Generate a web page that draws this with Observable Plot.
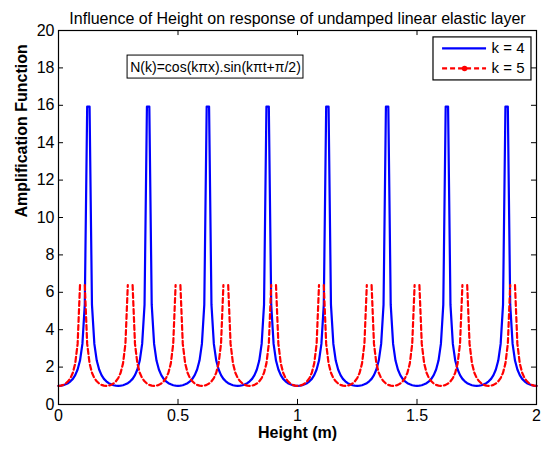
<!DOCTYPE html>
<html>
<head>
<meta charset="utf-8">
<script src="https://cdn.jsdelivr.net/npm/d3@7"></script>
<script src="https://cdn.jsdelivr.net/npm/@observablehq/plot@0.6"></script>
<style>
  html, body { margin: 0; padding: 0; background: #fff; }
</style>
</head>
<body>
<div id="chart"></div>
<script>
// Height (m) sampled every 0.01
const height = [
  0,0.01,0.02,0.03,0.04,0.05,0.06,0.07,0.08,0.09,0.1,0.11,0.12,0.13,0.14,0.15,0.16,0.17,0.18,0.19,
  0.2,0.21,0.22,0.23,0.24,0.25,0.26,0.27,0.28,0.29,0.3,0.31,0.32,0.33,0.34,0.35,0.36,0.37,0.38,0.39,
  0.4,0.41,0.42,0.43,0.44,0.45,0.46,0.47,0.48,0.49,0.5,0.51,0.52,0.53,0.54,0.55,0.56,0.57,0.58,0.59,
  0.6,0.61,0.62,0.63,0.64,0.65,0.66,0.67,0.68,0.69,0.7,0.71,0.72,0.73,0.74,0.75,0.76,0.77,0.78,0.79,
  0.8,0.81,0.82,0.83,0.84,0.85,0.86,0.87,0.88,0.89,0.9,0.91,0.92,0.93,0.94,0.95,0.96,0.97,0.98,0.99,
  1,1.01,1.02,1.03,1.04,1.05,1.06,1.07,1.08,1.09,1.1,1.11,1.12,1.13,1.14,1.15,1.16,1.17,1.18,1.19,
  1.2,1.21,1.22,1.23,1.24,1.25,1.26,1.27,1.28,1.29,1.3,1.31,1.32,1.33,1.34,1.35,1.36,1.37,1.38,1.39,
  1.4,1.41,1.42,1.43,1.44,1.45,1.46,1.47,1.48,1.49,1.5,1.51,1.52,1.53,1.54,1.55,1.56,1.57,1.58,1.59,
  1.6,1.61,1.62,1.63,1.64,1.65,1.66,1.67,1.68,1.69,1.7,1.71,1.72,1.73,1.74,1.75,1.76,1.77,1.78,1.79,
  1.8,1.81,1.82,1.83,1.84,1.85,1.86,1.87,1.88,1.89,1.9,1.91,1.92,1.93,1.94,1.95,1.96,1.97,1.98,1.99,
  2
];

// Amplification function, k = 4
const ampK4 = [
  1,1.01,1.03,1.08,1.14,1.24,1.37,1.57,1.87,2.35,3.24,5.34,15.93,15.93,5.34,3.24,2.35,1.87,1.57,1.37,1.24,1.14,1.08,1.03,1.01,
  1,1.01,1.03,1.08,1.14,1.24,1.37,1.57,1.87,2.35,3.24,5.34,15.93,15.93,5.34,3.24,2.35,1.87,1.57,1.37,1.24,1.14,1.08,1.03,1.01,
  1,1.01,1.03,1.08,1.14,1.24,1.37,1.57,1.87,2.35,3.24,5.34,15.93,15.93,5.34,3.24,2.35,1.87,1.57,1.37,1.24,1.14,1.08,1.03,1.01,
  1,1.01,1.03,1.08,1.14,1.24,1.37,1.57,1.87,2.35,3.24,5.34,15.93,15.93,5.34,3.24,2.35,1.87,1.57,1.37,1.24,1.14,1.08,1.03,1.01,
  1,1.01,1.03,1.08,1.14,1.24,1.37,1.57,1.87,2.35,3.24,5.34,15.93,15.93,5.34,3.24,2.35,1.87,1.57,1.37,1.24,1.14,1.08,1.03,1.01,
  1,1.01,1.03,1.08,1.14,1.24,1.37,1.57,1.87,2.35,3.24,5.34,15.93,15.93,5.34,3.24,2.35,1.87,1.57,1.37,1.24,1.14,1.08,1.03,1.01,
  1,1.01,1.03,1.08,1.14,1.24,1.37,1.57,1.87,2.35,3.24,5.34,15.93,15.93,5.34,3.24,2.35,1.87,1.57,1.37,1.24,1.14,1.08,1.03,1.01,
  1,1.01,1.03,1.08,1.14,1.24,1.37,1.57,1.87,2.35,3.24,5.34,15.93,15.93,5.34,3.24,2.35,1.87,1.57,1.37,1.24,1.14,1.08,1.03,1.01,
  1
];

// Amplification function, k = 5 (gap at each resonance)
const ampK5 = [
  1,1.01,1.05,1.12,1.24,1.41,1.7,2.2,3.24,6.39,NaN,6.39,3.24,2.2,1.7,1.41,1.24,1.12,1.05,1.01,
  1,1.01,1.05,1.12,1.24,1.41,1.7,2.2,3.24,6.39,NaN,6.39,3.24,2.2,1.7,1.41,1.24,1.12,1.05,1.01,
  1,1.01,1.05,1.12,1.24,1.41,1.7,2.2,3.24,6.39,NaN,6.39,3.24,2.2,1.7,1.41,1.24,1.12,1.05,1.01,
  1,1.01,1.05,1.12,1.24,1.41,1.7,2.2,3.24,6.39,NaN,6.39,3.24,2.2,1.7,1.41,1.24,1.12,1.05,1.01,
  1,1.01,1.05,1.12,1.24,1.41,1.7,2.2,3.24,6.39,NaN,6.39,3.24,2.2,1.7,1.41,1.24,1.12,1.05,1.01,
  1,1.01,1.05,1.12,1.24,1.41,1.7,2.2,3.24,6.39,NaN,6.39,3.24,2.2,1.7,1.41,1.24,1.12,1.05,1.01,
  1,1.01,1.05,1.12,1.24,1.41,1.7,2.2,3.24,6.39,NaN,6.39,3.24,2.2,1.7,1.41,1.24,1.12,1.05,1.01,
  1,1.01,1.05,1.12,1.24,1.41,1.7,2.2,3.24,6.39,NaN,6.39,3.24,2.2,1.7,1.41,1.24,1.12,1.05,1.01,
  1,1.01,1.05,1.12,1.24,1.41,1.7,2.2,3.24,6.39,NaN,6.39,3.24,2.2,1.7,1.41,1.24,1.12,1.05,1.01,
  1,1.01,1.05,1.12,1.24,1.41,1.7,2.2,3.24,6.39,NaN,6.39,3.24,2.2,1.7,1.41,1.24,1.12,1.05,1.01,
  1
];

const xTicks = [0, 0.5, 1, 1.5, 2];
const xTickLabels = ["0", "0.5", "1", "1.5", "2"];
const yTicks = [0, 2, 4, 6, 8, 10, 12, 14, 16, 18, 20];

const seriesNames = ["k = 4", "k = 5"];
const seriesColors = ["#0000ff", "#ff0000"];

const titleText = "Influence of Height on response of undamped linear elastic layer";
const xLabel = "Height (m)";
const yLabel = "Amplification Function";
const noteText = "N(k)=cos(k\u03c0x).sin(k\u03c0t+\u03c0/2)";

const rows = height.map((h, i) => ({h, a4: ampK4[i], a5: ampK5[i]}));

// layout (in data units of the axes)
const legendBox = {x1: 1.569, x2: 1.979, y1: 17.33, y2: 19.63};
const legendRows = [
  {x1: 1.607, x2: 1.791, y: 19.04, lx: 1.812, name: seriesNames[0], color: seriesColors[0], dot: false},
  {x1: 1.607, x2: 1.791, y: 17.97, lx: 1.812, name: seriesNames[1], color: seriesColors[1], dot: true}
];
const noteBox = {x1: 0.289, x2: 1.025, y1: 17.43, y2: 18.66};

const font = "'Liberation Sans', Arial, Helvetica, sans-serif";

const chart = Plot.plot({
  width: 541,
  height: 450,
  marginLeft: 58,
  marginRight: 5,
  marginTop: 30,
  marginBottom: 46,
  style: {fontFamily: font, fontSize: "16px", color: "#000", background: "#fff", overflow: "visible"},
  x: {domain: [0, 2]},
  y: {domain: [0, 20]},
  marks: [
    Plot.axisX(xTicks, {tickSize: 0, tickPadding: 5, fontSize: 16, label: null, tickFormat: (d, i) => xTickLabels[i]}),
    Plot.axisY(yTicks, {tickSize: 0, tickPadding: 4, fontSize: 16, label: null}),
    // inward ticks
    Plot.ruleX(xTicks, {x: d => d, y1: 0, y2: 0.27, stroke: "#000"}),
    Plot.ruleX(xTicks, {x: d => d, y1: 20, y2: 19.73, stroke: "#000"}),
    Plot.ruleY(yTicks, {y: d => d, x1: 0, x2: 0.021, stroke: "#000"}),
    Plot.ruleY(yTicks, {y: d => d, x1: 2, x2: 1.979, stroke: "#000"}),
    // series
    Plot.line(rows, {x: "h", y: "a4", stroke: seriesColors[0], strokeWidth: 2.2}),
    Plot.line(rows, {x: "h", y: "a5", stroke: seriesColors[1], strokeWidth: 2.2, strokeDasharray: "5,3"}),
    Plot.frame({stroke: "#000", strokeWidth: 1.2}),
    // annotation
    Plot.rect([noteBox], {x1: "x1", x2: "x2", y1: "y1", y2: "y2", fill: "#fff", stroke: "#000", strokeWidth: 1}),
    Plot.text([noteText], {x: (noteBox.x1 + noteBox.x2) / 2, y: (noteBox.y1 + noteBox.y2) / 2, text: d => d, fontSize: 14, fill: "#000"}),
    // legend
    Plot.rect([legendBox], {x1: "x1", x2: "x2", y1: "y1", y2: "y2", fill: "#fff", stroke: "#000", strokeWidth: 1.2}),
    Plot.ruleY([legendRows[0]], {y: "y", x1: "x1", x2: "x2", stroke: "color", strokeWidth: 2.2}),
    Plot.ruleY([legendRows[1]], {y: "y", x1: "x1", x2: "x2", stroke: "color", strokeWidth: 2.2, strokeDasharray: "5,3"}),
    Plot.dot(legendRows.filter(d => d.dot), {x: d => (d.x1 + d.x2) / 2, y: "y", r: 2.8, fill: "color", stroke: null}),
    Plot.text(legendRows, {x: "lx", y: "y", text: "name", textAnchor: "start", fontSize: 15, fill: "#000"}),
    // titles
    Plot.text([titleText], {frameAnchor: "top", dy: -18, text: d => d, fontSize: 16, fill: "#000"}),
    Plot.text([xLabel], {frameAnchor: "bottom", dy: 33, text: d => d, fontSize: 16, fontWeight: "bold", fill: "#000"}),
    Plot.text([yLabel], {frameAnchor: "left", dx: -37, rotate: -90, text: d => d, fontSize: 16, fontWeight: "bold", fill: "#000"})
  ]
});

document.getElementById("chart").appendChild(chart);
</script>
</body>
</html>
